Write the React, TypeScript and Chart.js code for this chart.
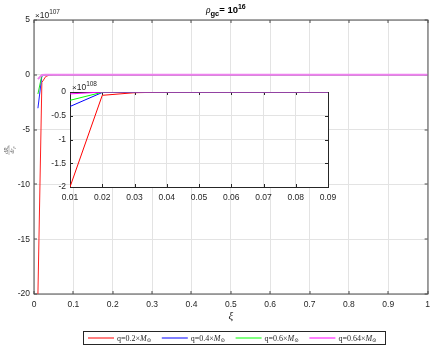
import React, { useEffect, useRef } from "react";
import { Chart, registerables } from "chart.js";
Chart.register(...registerables);

// ---- data ----
const xiValues = [0.01, 0.02, 0.03, 0.04, 0.05, 0.06, 0.07, 0.08, 0.09, 0.1, 0.2, 0.3, 0.4, 0.5, 0.6, 0.7, 0.8, 0.9, 1.0];
const qLabels = ["0.2", "0.4", "0.6", "0.64"];
const seriesQ02 = [-2.0e108, -0.07e108, -0.015e108, -0.002e108, 0, 0, 0, 0, 0, 0, 0, 0, 0, 0, 0, 0, 0, 0, 0];
const seriesQ04 = [-0.305e108, -0.01e108, -0.001e108, 0, 0, 0, 0, 0, 0, 0, 0, 0, 0, 0, 0, 0, 0, 0, 0];
const seriesQ06 = [-0.175e108, -0.005e108, 0, 0, 0, 0, 0, 0, 0, 0, 0, 0, 0, 0, 0, 0, 0, 0, 0];
const seriesQ064 = [-0.04e108, -0.001e108, 0, 0, 0, 0, 0, 0, 0, 0, 0, 0, 0, 0, 0, 0, 0, 0, 0];
const seriesColors = ["#ff0000", "#0000ff", "#00ff00", "#ff00ff"];
const mainExponent = 107;
const insetExponent = 108;

const SANS = "'Liberation Sans', Arial, Helvetica, sans-serif";
const SERIF = "'Liberation Serif', 'DejaVu Serif', serif";
const TEXT = "#262626";
const GRID = "#e3e3e3";

type Seg = { t: string; font: string; dy?: number };
function drawSegs(ctx: CanvasRenderingContext2D, segs: Seg[], x: number, y: number, align: "left" | "center" = "left") {
  let total = 0;
  for (const s of segs) { ctx.font = s.font; total += ctx.measureText(s.t).width; }
  let cx = align === "center" ? x - total / 2 : x;
  ctx.textAlign = "left";
  ctx.textBaseline = "alphabetic";
  for (const s of segs) {
    ctx.font = s.font;
    ctx.fillText(s.t, cx, y + (s.dy || 0));
    cx += ctx.measureText(s.t).width;
  }
}

function boxPlugin(color: string, tickLen: number, half: boolean, white: boolean) {
  return {
    id: "boxTicks",
    beforeDraw(chart: any) {
      if (!white) return;
      const a = chart.chartArea;
      const ctx = chart.ctx;
      ctx.save();
      ctx.fillStyle = "#ffffff";
      ctx.fillRect(a.left, a.top, a.right - a.left, a.bottom - a.top);
      ctx.restore();
    },
    beforeDatasetsDraw(chart: any) {
      const a = chart.chartArea;
      const ctx = chart.ctx;
      const o = half ? 0.5 : 0;
      ctx.save();
      ctx.strokeStyle = color;
      ctx.lineWidth = 1;
      ctx.beginPath();
      const xs = chart.scales.x;
      const ys = chart.scales.y;
      for (const t of xs.ticks) {
        const px = Math.round(xs.getPixelForValue(t.value)) + o;
        ctx.moveTo(px, a.bottom); ctx.lineTo(px, a.bottom - tickLen);
        ctx.moveTo(px, a.top); ctx.lineTo(px, a.top + tickLen);
      }
      for (const t of ys.ticks) {
        const py = Math.round(ys.getPixelForValue(t.value)) + o;
        ctx.moveTo(a.left, py); ctx.lineTo(a.left + tickLen, py);
        ctx.moveTo(a.right, py); ctx.lineTo(a.right - tickLen, py);
      }
      ctx.stroke();
      ctx.strokeRect(Math.round(a.left) + o, Math.round(a.top) + o, Math.round(a.right - a.left), Math.round(a.bottom - a.top));
      ctx.restore();
    },
  };
}

const mainDecor = {
  id: "mainDecor",
  afterDraw(chart: any) {
    const ctx = chart.ctx as CanvasRenderingContext2D;
    const a = chart.chartArea;
    ctx.save();
    ctx.fillStyle = TEXT;
    // exponent
    drawSegs(ctx, [
      { t: "\u00d7", font: `8px ${SANS}` },
      { t: "10", font: `8.5px ${SANS}` },
      { t: String(mainExponent), font: `6.5px ${SANS}`, dy: -4 },
    ], a.left + 1, 17.5);
    // title
    ctx.fillStyle = "#000";
    drawSegs(ctx, [
      { t: "\u03c1", font: `italic 9.5px ${SERIF}` },
      { t: "gc", font: `bold 7.5px ${SANS}`, dy: 2.5 },
      { t: "= 10", font: `bold 9.5px ${SANS}` },
      { t: "16", font: `bold 7px ${SANS}`, dy: -4.5 },
    ], (a.left + a.right) / 2 - 5, 13, "center");
    // x label
    ctx.fillStyle = TEXT;
    ctx.font = `italic 11px ${SERIF}`;
    ctx.textAlign = "center";
    ctx.textBaseline = "middle";
    ctx.fillText("\u03be", (a.left + a.right) / 2, 316);
    // y label (fraction, rotated)
    ctx.save();
    ctx.translate(9, 150);
    ctx.rotate(-Math.PI / 2);
    ctx.fillStyle = "#555";
    drawSegs(ctx, [
      { t: "dR", font: `italic 5.5px ${SERIF}` },
      { t: "s", font: `italic 4px ${SERIF}`, dy: 1 },
    ], 0, -1.5, "center");
    drawSegs(ctx, [
      { t: "dr", font: `italic 5.5px ${SERIF}` },
      { t: "p", font: `italic 4px ${SERIF}`, dy: 1 },
    ], 0, 4.5, "center");
    ctx.strokeStyle = "#777";
    ctx.lineWidth = 0.5;
    ctx.beginPath();
    ctx.moveTo(-5, 0); ctx.lineTo(5, 0);
    ctx.stroke();
    ctx.restore();
    // legend
    const lx = 83, ly = 331, lw = 302, lh = 13;
    ctx.fillStyle = "#fff";
    ctx.fillRect(lx, ly, lw, lh);
    ctx.strokeStyle = "#262626";
    ctx.lineWidth = 1;
    ctx.strokeRect(lx + 0.5, ly + 0.5, lw, lh);
    const step = 73.8;
    for (let i = 0; i < qLabels.length; i++) {
      const x0 = lx + 5 + i * step;
      ctx.strokeStyle = seriesColors[i];
      ctx.lineWidth = 1;
      ctx.beginPath();
      ctx.moveTo(x0, ly + 7);
      ctx.lineTo(x0 + 26, ly + 7);
      ctx.stroke();
      ctx.fillStyle = TEXT;
      drawSegs(ctx, [
        { t: `q=${qLabels[i]}\u00d7`, font: `8px ${SERIF}` },
        { t: "M", font: `italic 8px ${SERIF}` },
        { t: "\u2299", font: `5.5px ${SERIF}`, dy: 1.5 },
      ], x0 + 29, ly + 9.5);
    }
    ctx.restore();
  },
};

const insetDecor = {
  id: "insetDecor",
  afterDraw(chart: any) {
    const ctx = chart.ctx as CanvasRenderingContext2D;
    const a = chart.chartArea;
    ctx.save();
    ctx.fillStyle = TEXT;
    drawSegs(ctx, [
      { t: "\u00d7", font: `8px ${SANS}` },
      { t: "10", font: `8.5px ${SANS}` },
      { t: String(insetExponent), font: `6.5px ${SANS}`, dy: -4 },
    ], a.left + 2, 89.5);
    ctx.restore();
  },
};

function makeDatasets(lineW: number[], colors: string[]) {
  const all = [seriesQ02, seriesQ04, seriesQ06, seriesQ064];
  return all.map((s, i) => ({
    label: `q=${qLabels[i]}`,
    data: xiValues.map((x, j) => ({ x, y: s[j] })),
    borderColor: colors[i],
    backgroundColor: colors[i],
    borderWidth: lineW[i],
    pointRadius: 0,
    tension: 0,
    fill: false,
    order: 3 - i,
  }));
}

function fmt(v: number) {
  return String(+v.toFixed(2));
}

export default function App() {
  const mainRef = useRef<HTMLCanvasElement>(null);
  const insetRef = useRef<HTMLCanvasElement>(null);

  useEffect(() => {
    const tickFont = { family: SANS, size: 8.5 };
    const main = new Chart(mainRef.current!, {
      type: "line",
      data: { datasets: makeDatasets([1, 1, 1, 2], ["#ff2020", "#2020ff", "#20e020", "#f080f0"]) as any },
      plugins: [boxPlugin("#4d4d4d", 3, false, false), mainDecor],
      options: {
        responsive: false,
        animation: false,
        devicePixelRatio: 1,
        layout: { padding: { left: 0, top: 20, right: 3, bottom: 0 } },
        plugins: { legend: { display: false }, tooltip: { enabled: false }, title: { display: false } },
        scales: {
          x: {
            type: "linear", min: 0, max: 1,
            afterFit: (s: any) => { s.height = 52; },
            grid: { color: GRID, drawTicks: false },
            border: { display: false },
            ticks: { stepSize: 0.1, padding: 6, font: tickFont, color: TEXT, maxRotation: 0, autoSkip: false, callback: (v: any) => fmt(Number(v)) },
          },
          y: {
            type: "linear", min: -20e107, max: 5e107,
            afterFit: (s: any) => { s.width = 34; },
            grid: { color: GRID, drawTicks: false },
            border: { display: false },
            ticks: { stepSize: 5e107, padding: 4, font: tickFont, color: TEXT, autoSkip: false, callback: (v: any) => fmt(Number(v) / Math.pow(10, mainExponent)) },
          },
        },
      } as any,
    });
    const inset = new Chart(insetRef.current!, {
      type: "line",
      data: { datasets: makeDatasets([1, 1, 1, 1], seriesColors) as any },
      plugins: [boxPlugin("#262626", 3, true, true), insetDecor],
      options: {
        responsive: false,
        animation: false,
        devicePixelRatio: 1,
        layout: { padding: { left: 0, top: 92, right: 108, bottom: 0 } },
        plugins: { legend: { display: false }, tooltip: { enabled: false }, title: { display: false } },
        scales: {
          x: {
            type: "linear", min: 0.01, max: 0.09,
            afterFit: (s: any) => { s.height = 159; },
            grid: { color: GRID, drawTicks: false },
            border: { display: false },
            ticks: { stepSize: 0.01, padding: 6, font: tickFont, color: TEXT, maxRotation: 0, autoSkip: false, callback: (v: any) => Number(v).toFixed(2) },
          },
          y: {
            type: "linear", min: -2e108, max: 0,
            afterFit: (s: any) => { s.width = 70; },
            grid: { color: GRID, drawTicks: false },
            border: { display: false },
            ticks: { stepSize: 0.5e108, padding: 4, font: tickFont, color: TEXT, autoSkip: false, callback: (v: any) => fmt(Number(v) / Math.pow(10, insetExponent)) },
          },
        },
      } as any,
    });
    return () => { main.destroy(); inset.destroy(); };
  }, []);

  const cs: React.CSSProperties = { position: "absolute", left: 0, top: 0, width: 436, height: 346 };
  return (
    <div style={{ position: "fixed", left: 0, top: 0, width: 436, height: 346, background: "#fff" }}>
      <canvas ref={mainRef} width={436} height={346} style={cs} />
      <canvas ref={insetRef} width={436} height={346} style={cs} />
    </div>
  );
}
